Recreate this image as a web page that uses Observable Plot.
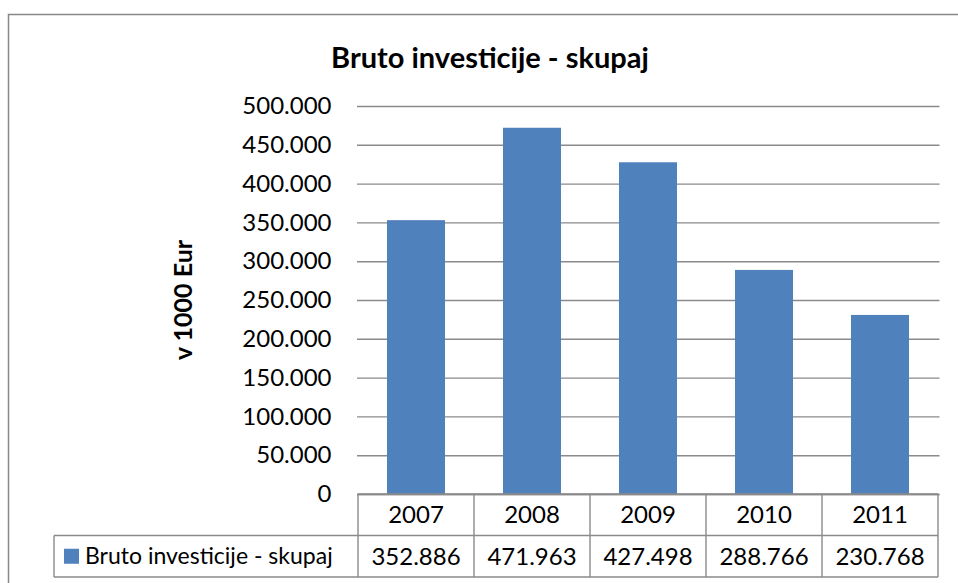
<!DOCTYPE html>
<html>
<head>
<meta charset="utf-8">
<script src="https://cdn.jsdelivr.net/npm/d3@7"></script>
<script src="https://cdn.jsdelivr.net/npm/@observablehq/plot@0.6"></script>
<style>
  html, body { margin: 0; padding: 0; background: #fff; overflow: hidden; }
  #chart { position: relative; width: 958px; height: 583px; overflow: hidden; }
</style>
</head>
<body>
<div id="chart"></div>
<script>
const title = "Bruto investicije - skupaj";
const seriesName = "Bruto investicije - skupaj";
const yLabel = "v 1000 Eur";
const years = ["2007", "2008", "2009", "2010", "2011"];
const values = [352886, 471963, 427498, 288766, 230768];
const valueLabels = ["352.886", "471.963", "427.498", "288.766", "230.768"];
const yTicks = [0, 50000, 100000, 150000, 200000, 250000, 300000, 350000, 400000, 450000, 500000];
const yTickLabels = ["0", "50.000", "100.000", "150.000", "200.000", "250.000", "300.000", "350.000", "400.000", "450.000", "500.000"];

const data = years.map((y, i) => ({year: y, value: values[i]}));
const blue = "#4f81bd";
const gridColor = "#8a8a8a";
const font = "Lato, 'Open Sans', sans-serif";

const plot = Plot.plot({
  width: 958,
  height: 583,
  marginTop: 106,
  marginBottom: 89,
  marginLeft: 357,
  marginRight: 18.5,
  style: {fontFamily: font, fontSize: "24px", color: "#000", background: "#fff"},
  x: {domain: years, paddingInner: 0.5, paddingOuter: 0.25, axis: null},
  y: {domain: [0, 500000], ticks: yTicks, tickFormat: d => yTickLabels[yTicks.indexOf(d)], tickSize: 0, tickPadding: 26, label: null},
  marks: [
    Plot.gridY(yTicks, {stroke: gridColor, strokeOpacity: 1, strokeWidth: 1.4}),
    Plot.barY(data, {x: "year", y: "value", fill: blue}),
    Plot.ruleX([0], {frameAnchor: "left", stroke: gridColor, strokeWidth: 1.4}),
    Plot.ruleY([0], {stroke: gridColor, strokeWidth: 1.4})
  ]
});

document.getElementById("chart").appendChild(plot);

const svg = d3.select(plot);
const xs = plot.scale("x");
const ys = plot.scale("y");
const step = xs.step;
const bw = xs.bandwidth;
const cx = y => xs.apply(y) + bw / 2;
const left = cx(years[0]) - step / 2;
const right = cx(years[years.length - 1]) + step / 2;
const y0 = ys.apply(0);
const rowH = 41.5;

// outer chart border: only top and left edges are visible in the frame
svg.insert("path", ":first-child")
  .attr("d", "M8.5,583V14.5H958")
  .attr("fill", "none").attr("stroke", "#888").attr("stroke-width", 1.5);

// title
svg.append("text").attr("x", 490).attr("y", 68).attr("text-anchor", "middle")
  .attr("font-family", font).attr("font-weight", "bold").attr("font-size", 29).attr("fill", "#000")
  .text(title);

// y label
svg.append("text").attr("transform", `translate(192,${(ys.apply(0) + ys.apply(500000)) / 2}) rotate(-90)`)
  .attr("text-anchor", "middle").attr("font-family", font).attr("font-weight", "bold").attr("font-size", 25).attr("fill", "#000")
  .text(yLabel);

const g = svg.append("g").attr("stroke", gridColor).attr("stroke-width", 1.4);
g.append("line").attr("x1", left).attr("x2", right).attr("y1", y0).attr("y2", y0);
g.append("line").attr("x1", 54).attr("x2", right).attr("y1", y0 + rowH).attr("y2", y0 + rowH);
g.append("line").attr("x1", 54).attr("x2", right).attr("y1", y0 + 2 * rowH).attr("y2", y0 + 2 * rowH);
g.append("line").attr("x1", 54).attr("x2", 54).attr("y1", y0 + rowH).attr("y2", y0 + 2 * rowH);
years.forEach(yr => {
  const xl = cx(yr) - step / 2;
  g.append("line").attr("x1", xl).attr("x2", xl).attr("y1", y0).attr("y2", y0 + 2 * rowH);
});
g.append("line").attr("x1", right).attr("x2", right).attr("y1", y0).attr("y2", y0 + 2 * rowH);

const t = svg.append("g").attr("font-family", font).attr("font-size", 24).attr("fill", "#000").attr("text-anchor", "middle");
years.forEach((yr, i) => {
  t.append("text").attr("x", cx(yr)).attr("y", y0 + rowH / 2).attr("dy", "0.35em").text(yr);
  t.append("text").attr("x", cx(yr)).attr("y", y0 + rowH * 1.5).attr("dy", "0.35em").text(valueLabels[i]);
});
svg.append("rect").attr("x", 64).attr("y", y0 + rowH * 1.5 - 7.5).attr("width", 15).attr("height", 15).attr("fill", blue);
svg.append("text").attr("x", 85).attr("y", y0 + rowH * 1.5).attr("dy", "0.35em").attr("text-anchor", "start")
  .attr("font-family", font).attr("font-size", 23).attr("fill", "#000").text(seriesName);
</script>
</body>
</html>
